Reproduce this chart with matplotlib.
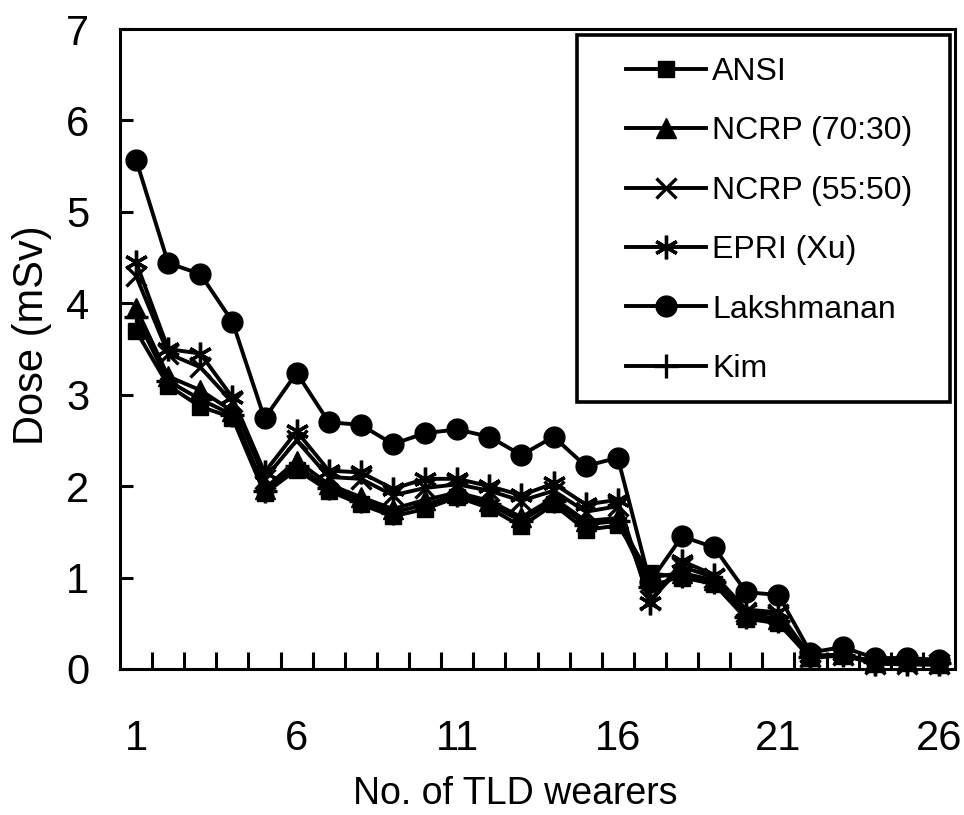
import matplotlib
matplotlib.use("Agg")
import matplotlib.pyplot as plt
from matplotlib.patches import Rectangle

FONT = "Liberation Sans"

wearers = list(range(1, 27))
ansi = [3.70, 3.10, 2.87, 2.75, 1.92, 2.18, 1.95, 1.80, 1.67, 1.75, 1.88, 1.76, 1.56,
        1.80, 1.52, 1.57, 1.05, 1.00, 0.93, 0.55, 0.50, 0.12, 0.15, 0.07, 0.08, 0.06]
ncrp_70_30 = [3.95, 3.20, 3.05, 2.82, 1.97, 2.28, 2.02, 1.88, 1.75, 1.85, 1.93, 1.84, 1.66,
              1.87, 1.62, 1.65, 1.00, 1.05, 0.97, 0.60, 0.55, 0.14, 0.16, 0.08, 0.09, 0.07]
ncrp_55_50 = [4.30, 3.45, 3.30, 2.92, 2.08, 2.50, 2.10, 2.08, 1.90, 1.98, 2.02, 1.95, 1.84,
              1.95, 1.72, 1.78, 0.75, 1.12, 1.00, 0.62, 0.60, 0.13, 0.15, 0.06, 0.05, 0.05]
epri_xu = [4.45, 3.50, 3.45, 2.97, 2.15, 2.60, 2.17, 2.15, 1.97, 2.08, 2.08, 2.00, 1.90,
           2.03, 1.80, 1.85, 0.72, 1.18, 1.03, 0.65, 0.62, 0.14, 0.16, 0.06, 0.05, 0.05]
lakshmanan = [5.57, 4.44, 4.32, 3.80, 2.74, 3.24, 2.70, 2.67, 2.46, 2.58, 2.62, 2.54, 2.34,
              2.54, 2.22, 2.31, 0.95, 1.45, 1.33, 0.84, 0.81, 0.18, 0.24, 0.12, 0.12, 0.10]
kim = [3.85, 3.15, 2.95, 2.78, 1.95, 2.22, 1.98, 1.84, 1.71, 1.80, 1.90, 1.80, 1.62,
       1.84, 1.58, 1.62, 0.90, 1.02, 0.95, 0.57, 0.52, 0.13, 0.15, 0.08, 0.08, 0.07]

labels = ["ANSI", "NCRP (70:30)", "NCRP (55:50)", "EPRI (Xu)", "Lakshmanan", "Kim"]
series = [ansi, ncrp_70_30, ncrp_55_50, epri_xu, lakshmanan, kim]
tick_labels = ["1", "6", "11", "16", "21", "26"]

styles = [dict(marker="s", ms=12),
          dict(marker="^", ms=14),
          dict(marker="x", ms=14, mew=2.4),
          dict(marker=(6, 2, 0), ms=17, mew=2.4),
          dict(marker="o", ms=15),
          dict(marker="+", ms=17, mew=2.4)]

W, H = 964, 815
fig = plt.figure(figsize=(W / 100, H / 100), dpi=100)
L, R, T, B = 120, 955, 29, 669
ax = fig.add_axes([L / W, 1 - B / H, (R - L) / W, (B - T) / H])

handles = []
for vals, lab, st in zip(series, labels, styles):
    h, = ax.plot(wearers, vals, color="black", lw=2.8, mfc="black", mec="black",
                 clip_on=False, label=lab, **st)
    handles.append(h)

ax.set_xlim(0.5, 26.5)
ax.set_ylim(0, 7)
ax.set_yticks(range(0, 8))
ax.set_xticks([int(t) for t in tick_labels])
ax.set_xticklabels(tick_labels)
ax.set_xticks([i + 0.5 for i in range(1, 26)], minor=True)
for s in ax.spines.values():
    s.set_linewidth(2.2)
ax.tick_params(axis="x", which="major", length=0, pad=36, labelsize=30, labelfontfamily=FONT)
ax.tick_params(axis="x", which="minor", direction="in", length=12.5, width=2.2)
ax.tick_params(axis="y", direction="in", length=9.5, width=2.2, pad=22, labelsize=30,
               labelfontfamily=FONT)
ax.set_xlabel("No. of TLD wearers", fontsize=27, family=FONT, labelpad=12)
ax.xaxis.label.set_x((515 - L) / (R - L))
ax.set_ylabel("Dose (mSv)", fontsize=30, family=FONT, labelpad=10)
ax.yaxis.label.set_y((B - 335) / (B - T))

leg = fig.legend(handles=handles, labels=labels, loc="upper left",
                 bbox_to_anchor=(626 / W, 1 - 57 / H), frameon=False,
                 prop=dict(family=FONT, size=23), handlelength=2.5,
                 handletextpad=0.2, borderpad=0, borderaxespad=0, labelspacing=0.92)
fig.add_artist(Rectangle((577 / W, 1 - 402 / H), (950 - 577) / W, (402 - 35) / H,
                         transform=fig.transFigure, fill=False, lw=2.6, ec="black"))

fig.savefig("out.png", dpi=100)
